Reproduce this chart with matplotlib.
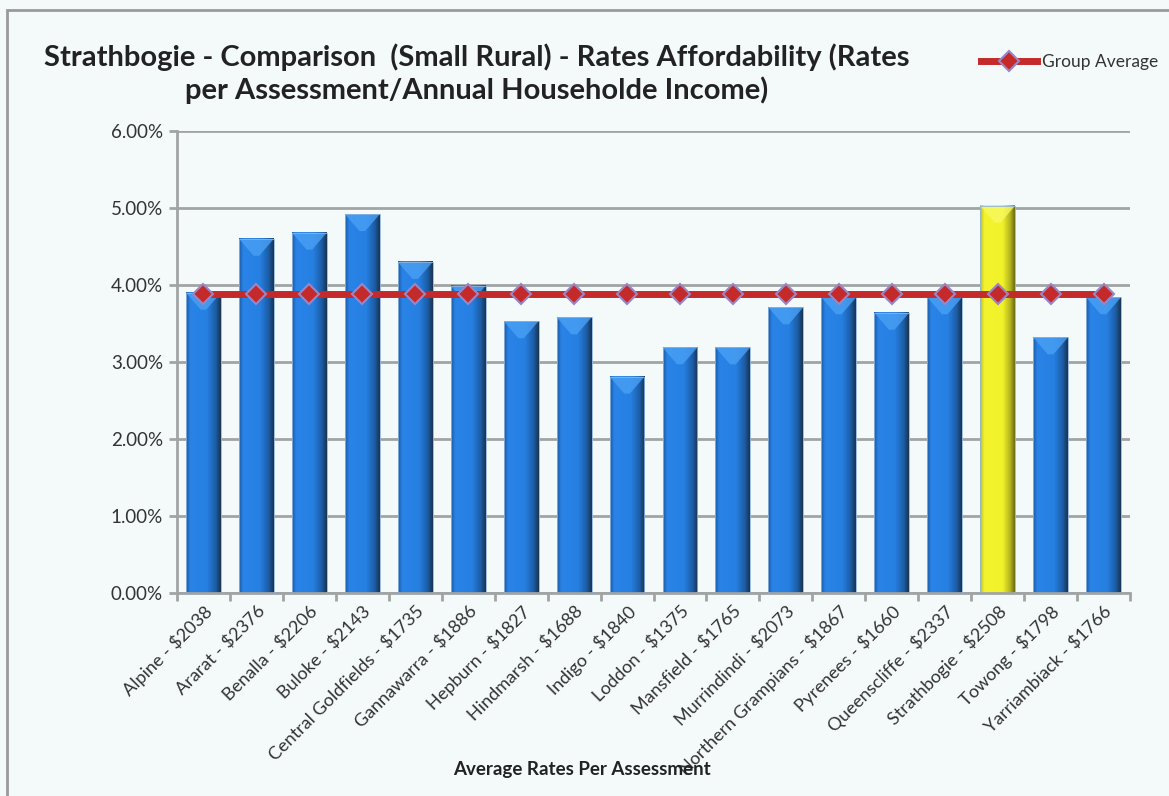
import numpy as np
import matplotlib.pyplot as plt
from matplotlib.colors import LinearSegmentedColormap
from matplotlib.patches import Rectangle, Polygon
from matplotlib.ticker import FuncFormatter, FixedLocator

plt.rcParams['font.family'] = ['Lato', 'DejaVu Sans']

councils = ['Alpine - $2038', 'Ararat - $2376', 'Benalla - $2206', 'Buloke - $2143',
            'Central Goldfields - $1735', 'Gannawarra - $1886', 'Hepburn - $1827',
            'Hindmarsh - $1688', 'Indigo - $1840', 'Loddon - $1375', 'Mansfield - $1765',
            'Murrindindi - $2073', 'Northern Grampians - $1867', 'Pyrenees - $1660',
            'Queenscliffe - $2337', 'Strathbogie - $2508', 'Towong - $1798',
            'Yarriambiack - $1766']
affordability = [3.90, 4.60, 4.68, 4.92, 4.30, 3.99, 3.53, 3.58, 2.81, 3.19, 3.19,
                 3.71, 3.84, 3.64, 3.84, 5.03, 3.32, 3.84]
group_avg = 3.88
highlight = 'Strathbogie - $2508'

blue_cm = LinearSegmentedColormap.from_list('b', [(0, '#1a5ba6'), (0.12, '#2a84e8'),
                                                 (0.6, '#2680e2'), (0.85, '#1c5ea8'),
                                                 (1, '#1a3552')])
yel_cm = LinearSegmentedColormap.from_list('y', [(0, '#bdbd1c'), (0.12, '#f4f42e'),
                                                (0.65, '#f2f22a'), (0.87, '#b4b420'),
                                                (1, '#6e6e12')])

fig = plt.figure(figsize=(11.69, 7.96), dpi=100)
bg = '#f4f9fa'
fig.patch.set_facecolor(bg)
ax = fig.add_axes([177 / 1169, 1 - 593 / 796, (1130 - 177) / 1169, (593 - 131) / 796])
ax.set_facecolor(bg)

# outer chart border
fig.add_artist(Rectangle((7 / 1169, -0.1), 1.2, 1 - 10 / 796 + 0.1, transform=fig.transFigure,
                         fill=False, edgecolor='#9a9a9a', linewidth=2))

n = len(councils)
x = np.arange(n)
w = 0.66
grad = np.linspace(0, 1, 64).reshape(1, -1)
for xi, name, v in zip(x, councils, affordability):
    cm = yel_cm if name == highlight else blue_cm
    x0, x1 = xi - w / 2, xi + w / 2
    ax.imshow(grad, cmap=cm, extent=[x0, x1, 0, v], aspect='auto', zorder=2,
              interpolation='bicubic')
    top = '#f8f860' if name == highlight else '#4aa0f4'
    ax.add_patch(Polygon([(x0, v), (x1, v), (xi + w * 0.08, v - 0.22), (xi - w * 0.08, v - 0.22)],
                         closed=True, facecolor=top, edgecolor='none', alpha=0.8, zorder=3))
    ax.add_patch(Rectangle((x0, 0), w, v, fill=False, edgecolor='#8fb4dc', linewidth=0.6,
                           zorder=3))

ax.plot(x, [group_avg] * n, color='#c42a2a', linewidth=5, marker='D', markersize=10,
        markerfacecolor='#c42a2a', markeredgecolor='#9a86c4', markeredgewidth=1.5,
        zorder=4, label='Group Average')

ax.set_xlim(-0.5, n - 0.5)
ax.set_ylim(0, 6)
ax.set_yticks(np.arange(0, 6.01, 1))
ax.yaxis.set_major_formatter(FuncFormatter(lambda v, p: f'{v:.2f}%'))
ax.grid(axis='y', color='#a0a4a4', linewidth=2, zorder=0)
ax.set_axisbelow(True)

ax.set_xticks(x)
ax.set_xticklabels(councils, rotation=45, ha='right', rotation_mode='anchor', fontsize=13,
                   color='#333333')
ax.tick_params(axis='x', length=0, pad=7)
ax.xaxis.set_minor_locator(FixedLocator(np.arange(-0.5, n, 1)))
ax.tick_params(axis='x', which='minor', length=6, width=2, color='#a0a4a4')
ax.tick_params(axis='y', length=6, width=2, color='#a0a4a4', labelsize=13.5,
               labelcolor='#333333', pad=4)

for s in ['top', 'right']:
    ax.spines[s].set_visible(False)
for s in ['left', 'bottom']:
    ax.spines[s].set_color('#a0a4a4')
    ax.spines[s].set_linewidth(2)

fig.text(477 / 1169, 1 - 74 / 796,
         'Strathbogie - Comparison  (Small Rural) - Rates Affordability (Rates\n'
         'per Assessment/Annual Householde Income)',
         ha='center', va='center', fontsize=21, fontweight='bold', color='#222222',
         linespacing=1.25)
fig.text(582 / 1169, 1 - 769 / 796, 'Average Rates Per Assessment', ha='center', va='center',
         fontsize=13.5, fontweight='bold', color='#222222')

fig.legend(loc='center', bbox_to_anchor=(1070 / 1169, 1 - 62 / 796), frameon=False,
           fontsize=12.5, handlelength=3.2, handletextpad=0.3, labelcolor='#333333')

fig.savefig('out.png', dpi=100, facecolor=bg)
